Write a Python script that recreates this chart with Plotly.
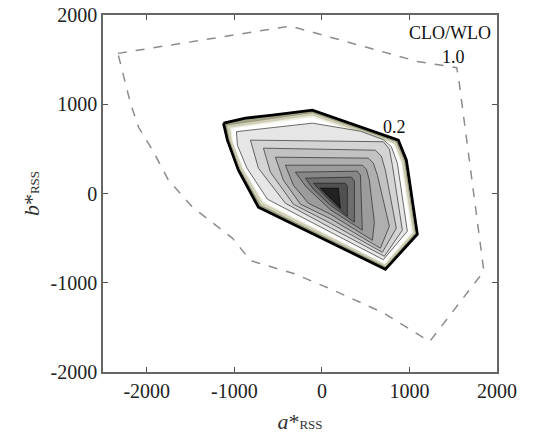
import plotly.graph_objects as go

# ---- data (a*RSS, b*RSS) ----
# dashed outer contour (CLO/WLO = 1.0)
dash_a = [-2330, -360, 1090, 1540, 1562, 1850, 1230, 706, 135, -322, -815, -1022, -1478, -1752, -1934, -2094, -2186, -2243, -2330]
dash_b = [1570, 1876, 1480, 1410, 1289, -870, -1660, -1340, -1084, -897, -752, -500, -153, 149, 485, 742, 1011, 1236, 1570]

# filled contours, outermost (0.2, thick black) to innermost
c00_a = [-1124, -873, -565, -108, 873, 965, 1090, 725, -725, -953, -1079]
c00_b = [788, 844, 878, 934, 598, 373, -456, -849, -154, 261, 598]
c01_a = [-1090, -108, 850, 942, 1067, 725, -702, -936, -1056]
c01_b = [766, 906, 580, 362, -445, -821, -131, 272, 598]
c02_a = [-1056, -108, 833, 919, 1045, 719, -679, -913, -1033]
c02_b = [743, 878, 564, 351, -439, -798, -109, 284, 598]
c03_a = [-1022, -108, 816, 896, 1016, 714, -656, -890, -1010]
c03_b = [721, 844, 547, 340, -434, -776, -86, 284, 586]
c04_a = [-976, -108, 440, 702, 793, 862, 976, 702, -622, -856, -965]
c04_b = [693, 788, 698, 603, 525, 340, -423, -742, -64, 284, 541]
c05_a = [-816, 702, 771, 805, 919, 714, 97, -417, -725]
c05_b = [598, 580, 497, 317, -411, -703, -383, -109, 284]
c06_a = [-668, 611, 679, 725, 850, 691, 97, -325, -588]
c06_b = [508, 485, 418, 261, -389, -658, -333, -120, 239]
c07_a = [-531, 531, 588, 634, 771, 668, 97, -245, -440]
c07_b = [407, 396, 340, 205, -367, -613, -282, -120, 149]
c08_a = [-417, 462, 508, 542, 599, 577, 97, -154, -325]
c08_b = [317, 317, 272, 149, -322, -524, -232, -109, 93]
c09_a = [-303, 405, 440, 462, 97, -177]
c09_b = [239, 250, 205, -411, -182, 71]
c10_a = [-188, 337, 371, 371, 97, -97]
c10_b = [172, 183, 138, -322, -131, 48]
c11_a = [-97, 268, 291, 291, 97]
c11_b = [115, 115, 82, -254, -86]
c12_a = [-17, 188, 211]
c12_b = [59, 59, -165]

contours_a = [c00_a, c01_a, c02_a, c03_a, c04_a, c05_a, c06_a, c07_a, c08_a, c09_a, c10_a, c11_a, c12_a]
contours_b = [c00_b, c01_b, c02_b, c03_b, c04_b, c05_b, c06_b, c07_b, c08_b, c09_b, c10_b, c11_b, c12_b]

fill_colors = ['#a3a387', '#d2d2b9', '#efefe2', '#ffffff', '#e6e6e6', '#d4d4d4', '#c2c2c2',
               '#afafaf', '#9c9c9c', '#878787', '#6e6e6e', '#505050', '#222222']
line_colors = ['#000000', '#8a8a70', '#c0c0a8', '#ffffff', '#5a5a5a', '#555555', '#505050',
               '#4a4a4a', '#444444', '#3e3e3e', '#363636', '#2c2c2c', '#111111']
line_widths = [2.8, 0.6, 0.6, 1.2, 0.9, 0.9, 0.9, 0.9, 0.9, 0.9, 0.9, 0.9, 0.9]

x_ticks = [-2000, -1000, 0, 1000, 2000]
y_ticks = [-2000, -1000, 0, 1000, 2000]

labels_text = ['CLO/WLO', '1.0', '0.2']
labels_a = [1467, 1501, 828]
labels_b = [1797, 1525, 743]

fig = go.Figure()

fig.add_trace(go.Scatter(x=dash_a, y=dash_b, mode='lines',
                         line=dict(color='#8c8c8c', width=1.5, dash='dash'),
                         hoverinfo='skip', showlegend=False))

for a, b, fc, lc, lw in zip(contours_a, contours_b, fill_colors, line_colors, line_widths):
    fig.add_trace(go.Scatter(x=a + [a[0]], y=b + [b[0]], mode='lines', fill='toself',
                             fillcolor=fc, line=dict(color=lc, width=lw, shape='linear'),
                             hoverinfo='skip', showlegend=False))

for t, a, b in zip(labels_text, labels_a, labels_b):
    fig.add_annotation(x=a, y=b, text=t, showarrow=False,
                       font=dict(family='Liberation Serif', size=18, color='#111'))

axis_common = dict(showgrid=False, zeroline=False, ticks='inside', ticklen=5, tickwidth=1,
                   tickcolor='#555', showline=True, linecolor='#666', linewidth=1.5, mirror='ticks',
                   automargin=False,
                   tickfont=dict(family='Liberation Serif', size=20, color='#222'))

fig.update_xaxes(range=[-2500, 2000], tickvals=x_ticks, ticktext=[str(v) for v in x_ticks],
                 title=dict(text="<i>a</i>*<span style='font-size:13px'>RSS</span>",
                            font=dict(family='Liberation Serif', size=22, color='#333'), standoff=13),
                 **axis_common)
fig.update_yaxes(range=[-2000, 2000], tickvals=y_ticks, ticktext=[str(v) for v in y_ticks],
                 title=dict(text="<i>b</i>*<span style='font-size:13px'>RSS</span>",
                            font=dict(family='Liberation Serif', size=22, color='#333'), standoff=5),
                 **axis_common)

fig.update_layout(width=536, height=434, margin=dict(l=103, r=39, t=15, b=62),
                  plot_bgcolor='white', paper_bgcolor='white', showlegend=False)

fig.write_html("out.html", config={'displayModeBar': False},
               post_script="document.body.style.margin='0px';")
